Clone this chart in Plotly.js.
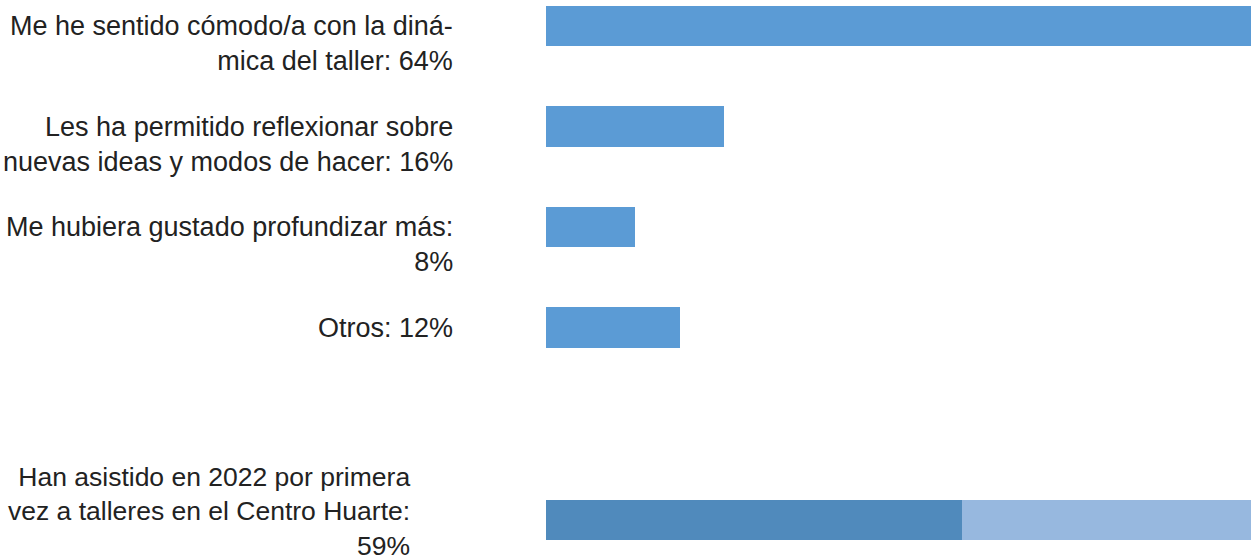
<!DOCTYPE html>
<html>
<head>
<meta charset="utf-8">
<script src="https://cdn.plot.ly/plotly-3.0.1.min.js"></script>
<style>
  html, body { margin: 0; padding: 0; background: #ffffff; }
  #chart { width: 1251px; height: 556px; }
</style>
</head>
<body>
<div id="chart"></div>
<script>
// ---- data ----
const categories = ['Cómodo/a', 'Reflexionar', 'Profundizar', 'Otros'];
const values = [64, 16, 8, 12];
const labels = [
  'Me he sentido cómodo/a con la diná-<br>mica del taller: 64%',
  'Les ha permitido reflexionar sobre<br>nuevas ideas y modos de hacer: 16%',
  'Me hubiera gustado profundizar más:<br>8%',
  'Otros: 12%'
];
const firstTimeCategory = ['Primera vez'];
const firstTimeValues = [59];
const restValues = [41];
const firstTimeLabel = 'Han asistido en 2022 por primera<br>vez a talleres en el Centro Huarte:<br>59%';

// ---- styles ----
const W = 1251, H = 556;
const textColor = '#222222';
const fontFamily = '"Liberation Sans", Arial, Helvetica, sans-serif';
const topSize = 27, bottomSize = 26.5;
const lineH = 1.3;

const traces = [
  {
    type: 'bar', orientation: 'h',
    x: values, y: categories,
    xaxis: 'x', yaxis: 'y',
    width: 0.4,
    marker: { color: '#5B9BD5', line: { width: 0 } },
    hoverinfo: 'none', showlegend: false
  },
  {
    type: 'bar', orientation: 'h',
    x: firstTimeValues, y: firstTimeCategory,
    xaxis: 'x2', yaxis: 'y2',
    width: 0.4,
    marker: { color: '#508ABC', line: { width: 0 } },
    hoverinfo: 'none', showlegend: false
  },
  {
    type: 'bar', orientation: 'h',
    x: restValues, y: firstTimeCategory,
    xaxis: 'x2', yaxis: 'y2',
    width: 0.4,
    marker: { color: '#97B8DF', line: { width: 0 } },
    hoverinfo: 'none', showlegend: false
  }
];

const annotations = labels.map((t, i) => {
  const n = t.split('<br>').length;
  return {
    xref: 'paper', yref: 'y', x: 455 / W, y: categories[i],
    xanchor: 'right', yanchor: 'middle', align: 'right',
    text: t, showarrow: false,
    yshift: -(n - 1) * topSize * lineH / 2,
    font: { family: fontFamily, size: topSize, color: textColor }
  };
});
annotations.push({
  xref: 'paper', yref: 'y2', x: 412 / W, y: firstTimeCategory[0],
  xanchor: 'right', yanchor: 'middle', align: 'right',
  text: firstTimeLabel, showarrow: false,
  yshift: 9,
  font: { family: fontFamily, size: bottomSize, color: textColor }
});

const hidden = { showgrid: false, zeroline: false, showline: false, showticklabels: false, ticks: '', fixedrange: true };

const layout = {
  width: W, height: H,
  margin: { l: 0, r: 0, t: 0, b: 0, pad: 0 },
  paper_bgcolor: '#ffffff', plot_bgcolor: '#ffffff',
  barmode: 'stack',
  showlegend: false,
  xaxis: Object.assign({}, hidden, { domain: [546 / W, 1], range: [0, 705 / 11.14], anchor: 'y' }),
  yaxis: Object.assign({}, hidden, {
    type: 'category', categoryorder: 'array', categoryarray: categories,
    domain: [1 - 400 / H, 1], range: [(400 - 26) / 100.5, -26 / 100.5], anchor: 'x'
  }),
  xaxis2: Object.assign({}, hidden, { domain: [546 / W, 1], range: [0, 100], anchor: 'y2' }),
  yaxis2: Object.assign({}, hidden, {
    type: 'category', domain: [0, 96 / H], range: [-0.36, 0.6], anchor: 'x2'
  }),
  annotations: annotations
};

Plotly.newPlot('chart', traces, layout, { displayModeBar: false, staticPlot: true });
</script>
</body>
</html>
